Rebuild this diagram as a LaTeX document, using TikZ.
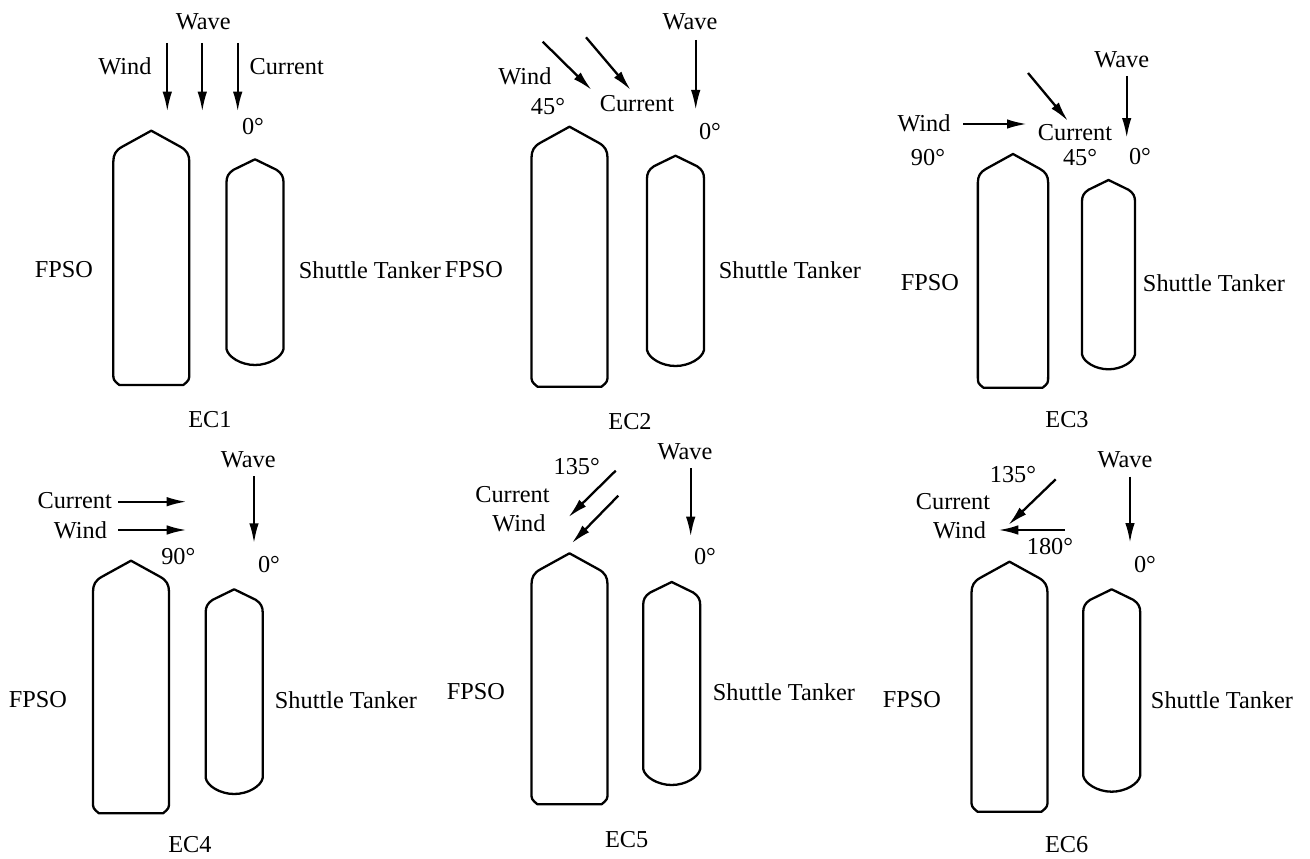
\documentclass[tikz,border=0pt]{standalone}
\usepackage{fontspec}
\setmainfont{Liberation Serif}
\usetikzlibrary{arrows.meta}
\tikzset{
  hull/.style={line width=2.3pt, line join=round},
  flow/.style={line width=2.3pt, -{Latex[length=20pt,width=9.5pt]}},
  lbl/.style={inner sep=0pt, font=\fontsize{24.3}{29}\selectfont},
}
\newcommand\fpsohull[4]{%
  \draw[hull] (#1,#2) -- ({#1-29*#4},{#2+16*#4})
    .. controls ({#1-35.5*#4},{#2+19.5*#4}) and ({#1-38*#4},{#2+24*#4}) .. ({#1-38*#4},{#2+31*#4})
    -- ({#1-38*#4},{#3-12*#4}) .. controls ({#1-38*#4},{#3-5*#4}) .. ({#1-32*#4},#3)
    -- ({#1+32*#4},#3) .. controls ({#1+38*#4},{#3-5*#4}) .. ({#1+38*#4},{#3-12*#4})
    -- ({#1+38*#4},{#2+31*#4}) .. controls ({#1+38*#4},{#2+24*#4}) and ({#1+35.5*#4},{#2+19.5*#4}) .. ({#1+29*#4},{#2+16*#4})
    -- cycle;}
\newcommand\shuttlehull[4]{%
  \draw[hull] (#1,#2) -- ({#1-21.5*#4},{#2+10.5*#4})
    .. controls ({#1-27*#4},{#2+14*#4}) and ({#1-28.5*#4},{#2+18*#4}) .. ({#1-28.5*#4},{#2+23*#4})
    -- ({#1-28.5*#4},{#3-16*#4}) .. controls ({#1-27*#4},{#3-8*#4}) and ({#1-14*#4},#3) .. (#1,#3)
    .. controls ({#1+14*#4},#3) and ({#1+27*#4},{#3-8*#4}) .. ({#1+28.5*#4},{#3-16*#4})
    -- ({#1+28.5*#4},{#2+23*#4}) .. controls ({#1+28.5*#4},{#2+18*#4}) and ({#1+27*#4},{#2+14*#4}) .. ({#1+21.5*#4},{#2+10.5*#4})
    -- cycle;}
\begin{document}
\begin{tikzpicture}[x=1pt,y=-1pt]
\useasboundingbox[fill=white] (0,0) rectangle (1310,859);

% ---------- EC1 ----------
\fpsohull{151.3}{130.7}{385}{1}
\shuttlehull{255}{159.3}{365}{1}
\node[lbl] (w1) at (125,66.7) {Wind};
\node[lbl] (v1) at (203.3,21.7) {Wave};
\node[lbl] (c1) at (286.7,66.7) {Current};
\node[lbl] (d1) at (253,126.7) {0°};
\node[lbl] (f1) at (64,270) {FPSO};
\node[lbl] (s1) at (370,270) {Shuttle Tanker};
\node[lbl] (e1) at (210,420) {EC1};
\coordinate (a1s) at (167.3,43); \coordinate (a1e) at (167.3,111.7);
\coordinate (b1s) at (202.3,43); \coordinate (b1e) at (202.3,111.7);
\coordinate (g1s) at (237.7,43); \coordinate (g1e) at (237.7,111.7);
\draw[flow] (a1s) -- (a1e);
\draw[flow] (b1s) -- (b1e);
\draw[flow] (g1s) -- (g1e);

% ---------- EC2 ----------
\fpsohull{569.5}{126.7}{386.7}{1}
\shuttlehull{675.5}{155.7}{366}{1}
\node[lbl] (w2) at (525,76) {Wind};
\node[lbl] (k2) at (548,107) {45°};
\node[lbl] (c2) at (637,104) {Current};
\node[lbl] (v2) at (690,21.7) {Wave};
\node[lbl] (d2) at (710,131.7) {0°};
\node[lbl] (f2) at (474,270) {FPSO};
\node[lbl] (s2) at (790,270) {Shuttle Tanker};
\node[lbl] (e2) at (630,422) {EC2};
\coordinate (a2s) at (542.7,41.7); \coordinate (a2e) at (591.7,90);
\coordinate (b2s) at (586,37.3); \coordinate (b2e) at (630.7,90);
\coordinate (g2s) at (695.7,40); \coordinate (g2e) at (695.7,110);
\draw[flow] (a2s) -- (a2e);
\draw[flow] (b2s) -- (b2e);
\draw[flow] (g2s) -- (g2e);

% ---------- EC3 ----------
\fpsohull{1013}{154}{387.7}{0.925}
\shuttlehull{1108.5}{180}{369.3}{0.93}
\node[lbl] (w3) at (924,123) {Wind};
\node[lbl] (n3) at (928,158) {90°};
\node[lbl] (c3) at (1075,133) {Current};
\node[lbl] (k3) at (1080,158) {45°};
\node[lbl] (v3) at (1121.7,60) {Wave};
\node[lbl] (d3) at (1140,157) {0°};
\node[lbl] (f3) at (930,283) {FPSO};
\node[lbl] (s3) at (1214,283) {Shuttle Tanker};
\node[lbl] (e3) at (1067,420) {EC3};
\coordinate (a3s) at (963,124); \coordinate (a3e) at (1027,124);
\coordinate (b3s) at (1028,73); \coordinate (b3e) at (1068,121);
\coordinate (g3s) at (1126.7,76); \coordinate (g3e) at (1126.7,138);
\draw[flow] (a3s) -- (a3e);
\draw[flow] (b3s) -- (b3e);
\draw[flow] (g3s) -- (g3e);

% ---------- EC4 ----------
\fpsohull{131}{560.7}{813.3}{1}
\shuttlehull{234.2}{589.3}{794}{1}
\node[lbl] (c4) at (74.7,501) {Current};
\node[lbl] (w4) at (80.5,530) {Wind};
\node[lbl] (n4) at (178.3,556.7) {90°};
\node[lbl] (v4) at (248.3,459.3) {Wave};
\node[lbl] (d4) at (269,565) {0°};
\node[lbl] (f4) at (38,700) {FPSO};
\node[lbl] (s4) at (346,700) {Shuttle Tanker};
\node[lbl] (e4) at (190,845) {EC4};
\coordinate (a4s) at (118,501.7); \coordinate (a4e) at (186.7,501.7);
\coordinate (b4s) at (118,530); \coordinate (b4e) at (186.7,530);
\coordinate (g4s) at (254,476); \coordinate (g4e) at (254,543.3);
\draw[flow] (a4s) -- (a4e);
\draw[flow] (b4s) -- (b4e);
\draw[flow] (g4s) -- (g4e);

% ---------- EC5 ----------
\fpsohull{569.5}{553.3}{804.3}{1}
\shuttlehull{671.7}{582}{785}{1}
\node[lbl] (k5) at (576.7,466.7) {135°};
\node[lbl] (c5) at (512.5,495) {Current};
\node[lbl] (w5) at (519,523) {Wind};
\node[lbl] (v5) at (685,451.7) {Wave};
\node[lbl] (d5) at (705,556.7) {0°};
\node[lbl] (f5) at (476,692) {FPSO};
\node[lbl] (s5) at (784,692) {Shuttle Tanker};
\node[lbl] (e5) at (626.7,840) {EC5};
\coordinate (a5s) at (615.7,470.7); \coordinate (a5e) at (568.3,517.3);
\coordinate (b5s) at (618.3,495.7); \coordinate (b5e) at (571.7,543.3);
\coordinate (g5s) at (690.7,468); \coordinate (g5e) at (690.7,536.7);
\draw[flow] (a5s) -- (a5e);
\draw[flow] (b5s) -- (b5e);
\draw[flow] (g5s) -- (g5e);

% ---------- EC6 ----------
\fpsohull{1009.5}{561.7}{811.7}{1}
\shuttlehull{1111.7}{589.3}{791.7}{1}
\node[lbl] (k6) at (1013,475) {135°};
\node[lbl] (c6) at (953,501.7) {Current};
\node[lbl] (w6) at (959.5,530) {Wind};
\node[lbl] (h6) at (1050,546.7) {180°};
\node[lbl] (v6) at (1125,460) {Wave};
\node[lbl] (d6) at (1145,565) {0°};
\node[lbl] (f6) at (912,700) {FPSO};
\node[lbl] (s6) at (1222,700) {Shuttle Tanker};
\node[lbl] (e6) at (1066.7,845) {EC6};
\coordinate (a6s) at (1055.7,479.3); \coordinate (a6e) at (1008.3,525);
\coordinate (b6s) at (1065,530); \coordinate (b6e) at (998.3,530);
\coordinate (g6s) at (1130,476.7); \coordinate (g6e) at (1130,543);
\draw[flow] (a6s) -- (a6e);
\draw[flow] (b6s) -- (b6e);
\draw[flow] (g6s) -- (g6e);
\end{tikzpicture}
\end{document}
